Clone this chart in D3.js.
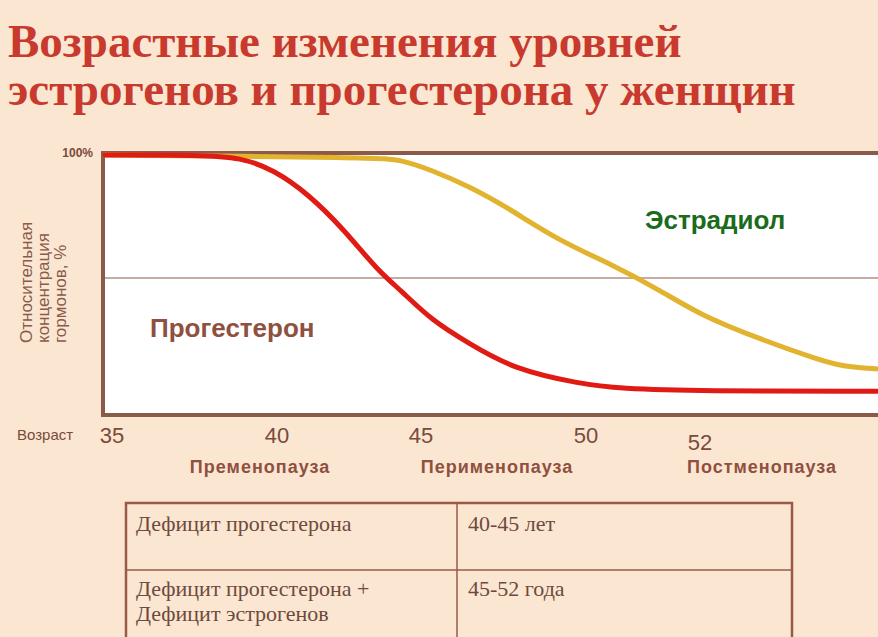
<!DOCTYPE html>
<html><head><meta charset="utf-8">
<script src="https://cdn.jsdelivr.net/npm/d3@7"></script>
<style>body{margin:0;background:#fbe6d1;overflow:hidden}</style>
</head><body><div id="chart"></div>
<script>
const ageTicks = [35, 40, 45, 50, 52]
const progAge = [34.7, 37.7, 38.9, 39.9, 41.1, 42.3, 43.5, 44.3, 45.3, 46.5, 47.8, 49.8, 50.6, 52, 55.5]
const progVal = [100, 100, 99, 94, 84, 70, 53, 45, 33, 23, 13, 7, 5, 4, 4]
const estrAge = [34.7, 43.5, 44.3, 45.3, 46.5, 47.7, 49.2, 50.5, 51.3, 52, 53.2, 54.3, 54.8, 55.5]
const estrVal = [100, 99, 98, 94, 87, 78, 65, 55, 45, 35, 25, 17, 14, 13]
const phases = ["Пременопауза", "Перименопауза", "Постменопауза"]
const tableRows = [["Дефицит прогестерона", "40-45 лет"], ["Дефицит прогестерона +\nДефицит эстрогенов", "45-52 года"]]

const W = 878, H = 637
const svg = d3.select("#chart").append("svg").attr("width", W).attr("height", H)
svg.append("rect").attr("width", W).attr("height", H).attr("fill", "#fbe6d1")

// title
svg.selectAll(".title").data(["Возрастные изменения уровней", "эстрогенов и прогестерона у женщин"])
  .join("text").attr("x", 8).attr("y", (d, i) => 57 + i * 48)
  .attr("font-family", "Liberation Serif").attr("font-weight", "bold").attr("font-size", 47)
  .attr("fill", "#c8392e").text(d => d)

// scales (age axis is not evenly spaced in the picture)
const x = d3.scaleLinear().domain([34.7, 35, 40, 45, 50, 52, 55.5]).range([103, 112, 277, 421, 586, 700, 878])
const y = d3.scaleLinear().domain([0, 100]).range([401, 155])

// plot frame
svg.append("rect").attr("x", 103).attr("y", 153).attr("width", 790).attr("height", 262)
  .attr("fill", "#fff").attr("stroke", "#8a5a4a").attr("stroke-width", 4)
svg.append("line").attr("x1", 103).attr("x2", 878).attr("y1", y(50)).attr("y2", y(50))
  .attr("stroke", "#8a5a4a").attr("stroke-width", 1)

const line = d3.line().x(d => x(d[0])).y(d => y(d[1])).curve(d3.curveBasis)
svg.append("path").datum(d3.zip(estrAge, estrVal)).attr("d", line)
  .attr("fill", "none").attr("stroke", "#e2b32e").attr("stroke-width", 5)
svg.append("path").datum(d3.zip(progAge, progVal)).attr("d", line)
  .attr("fill", "none").attr("stroke", "#e01b14").attr("stroke-width", 5)

// labels
svg.append("text").attr("x", 150).attr("y", 337).attr("font-family", "Liberation Sans")
  .attr("font-weight", "bold").attr("font-size", 26).attr("fill", "#8f5040").text("Прогестерон")
svg.append("text").attr("x", 645).attr("y", 229).attr("font-family", "Liberation Sans")
  .attr("font-weight", "bold").attr("font-size", 26).attr("fill", "#1a6b1a").text("Эстрадиол")
svg.append("text").attr("x", 93).attr("y", 157).attr("text-anchor", "end").attr("font-family", "Liberation Sans")
  .attr("font-weight", "bold").attr("font-size", 12).attr("fill", "#7a4a3a").text("100%")

const yl = svg.append("text").attr("transform", "translate(32,343) rotate(-90)")
  .attr("font-family", "Liberation Sans").attr("font-size", 17).attr("fill", "#8a5a4a")
;["Относительная", "концентрация", "гормонов, %"].forEach((t, i) =>
  yl.append("tspan").attr("x", 0).attr("dy", i ? 17 : 0).text(t))

svg.append("text").attr("x", 17).attr("y", 440).attr("font-family", "Liberation Sans")
  .attr("font-size", 15).attr("fill", "#7a4a3a").text("Возраст")
svg.selectAll(".tick").data(ageTicks).join("text")
  .attr("x", d => x(d)).attr("y", d => d === 52 ? 450 : 443).attr("text-anchor", "middle")
  .attr("font-family", "Liberation Sans").attr("font-size", 22).attr("fill", "#7a4a3a").text(d => d)
svg.selectAll(".phase").data(phases).join("text")
  .attr("x", (d, i) => [260, 497, 762][i]).attr("y", 473).attr("text-anchor", "middle")
  .attr("font-family", "Liberation Sans").attr("font-weight", "bold").attr("font-size", 18)
  .attr("letter-spacing", 1).attr("fill", "#8f5040").text(d => d)

// table
const tg = svg.append("g")
tg.append("rect").attr("x", 126).attr("y", 503).attr("width", 666).attr("height", 140)
  .attr("fill", "none").attr("stroke", "#9a5a48").attr("stroke-width", 2.5)
tg.append("line").attr("x1", 126).attr("x2", 792).attr("y1", 570).attr("y2", 570).attr("stroke", "#9a5a48").attr("stroke-width", 1.5)
tg.append("line").attr("x1", 457).attr("x2", 457).attr("y1", 503).attr("y2", 643).attr("stroke", "#9a5a48").attr("stroke-width", 1.5)
tableRows.forEach((r, i) => {
  r.forEach((c, j) => {
    const t = tg.append("text").attr("font-family", "Liberation Serif").attr("font-size", 22).attr("fill", "#6e4a3e")
    c.split("\n").forEach((s, k) => t.append("tspan").attr("x", j ? 468 : 136)
      .attr("y", (i ? 596 : 531) + k * 25).text(s))
  })
})
</script></body></html>
